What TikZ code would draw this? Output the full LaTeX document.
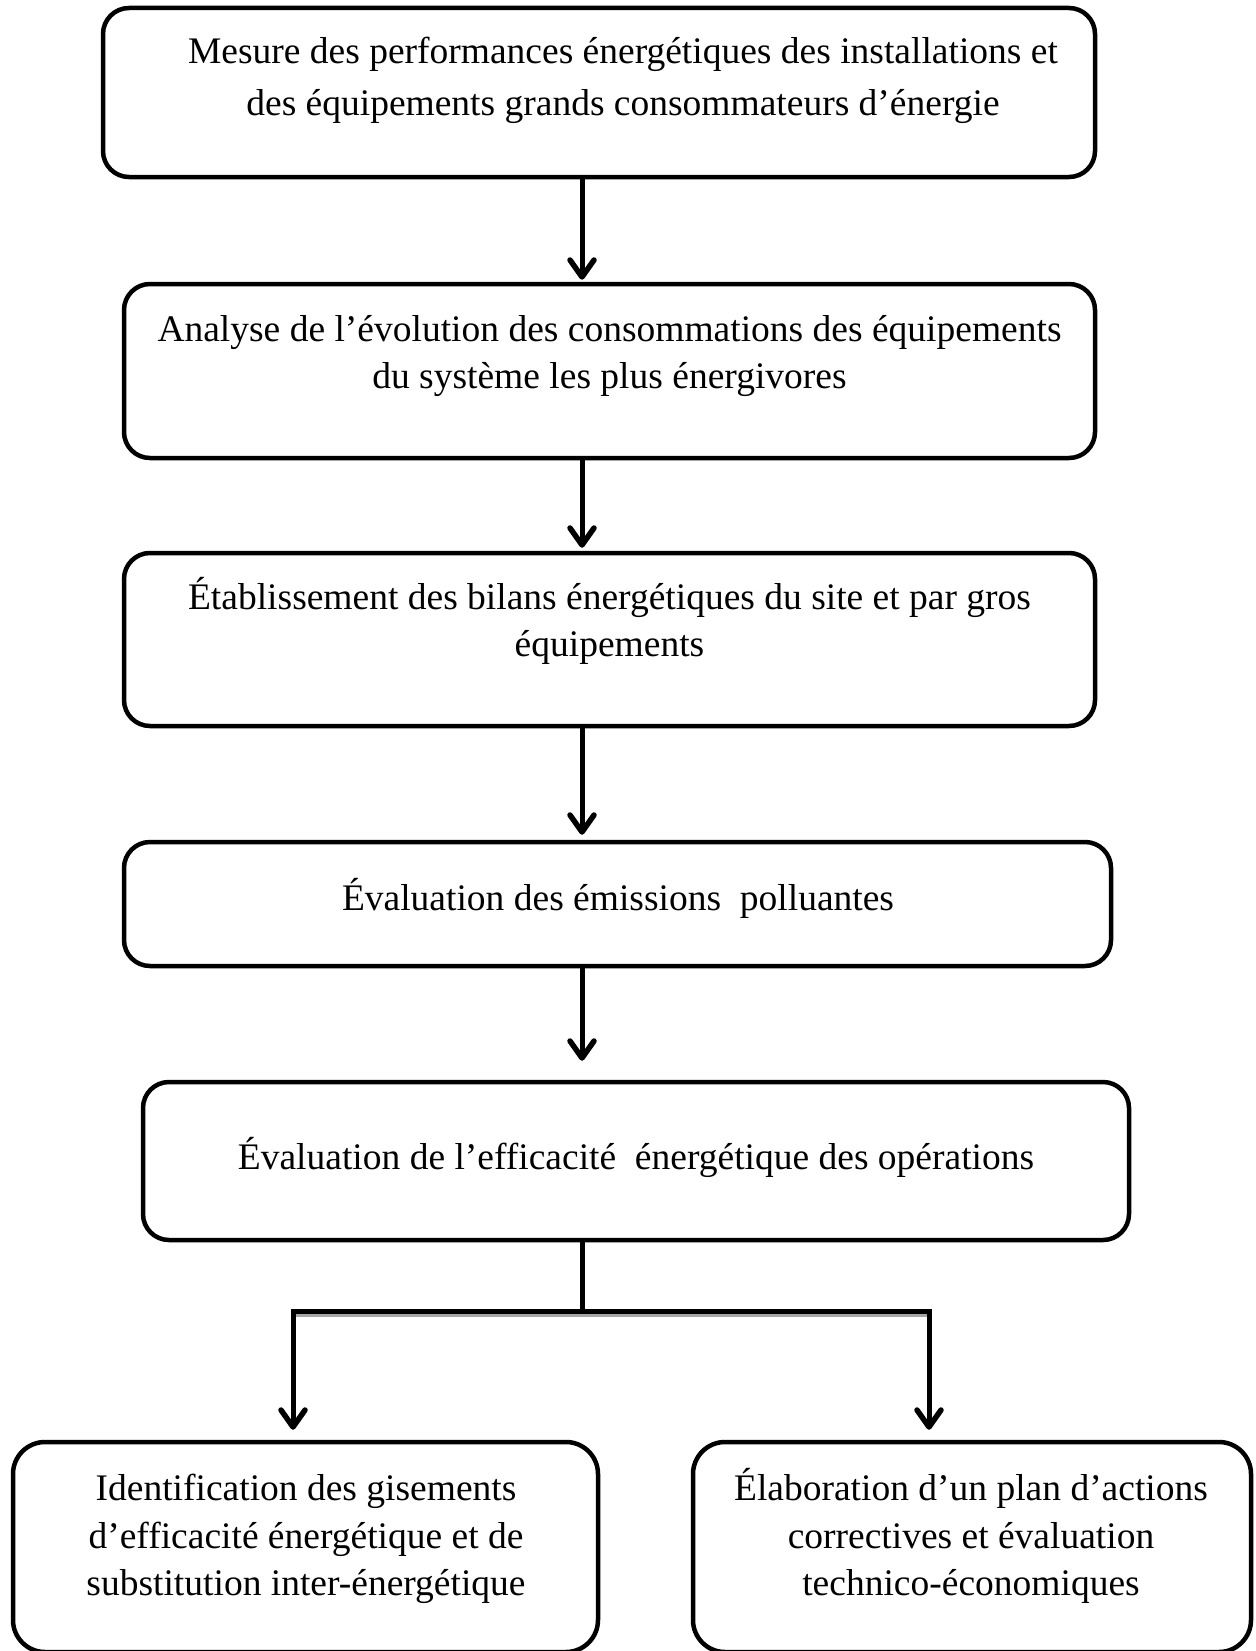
\documentclass[tikz,border=0pt]{standalone}
\usepackage{fontspec}
\setmainfont{Liberation Serif}
\usetikzlibrary{arrows.meta}
\begin{document}
\begin{tikzpicture}[x=1pt,y=-1pt,
  box/.style={draw, line width=4.5pt, rounded corners=26pt, inner sep=0pt},
  bigbox/.style={box, rounded corners=32pt},
  txt/.style={align=center, font=\fontsize{37.5}{47.5}\selectfont, inner sep=0pt},
  arr/.style={line width=5pt, -{Straight Barb[length=17pt,width=24pt,line width=5.5pt,round]}},
  ln/.style={line width=5pt}]
\useasboundingbox (0,0) rectangle (1255,1651);
% boxes
\node[box, minimum width=992pt, minimum height=169pt] (b1) at (599,92.5) {};
\node[box, minimum width=971pt, minimum height=174pt] (b2) at (609.5,371) {};
\node[box, minimum width=971pt, minimum height=173pt] (b3) at (609.5,639.5) {};
\node[box, minimum width=987pt, minimum height=124pt] (b4) at (617.5,904) {};
\node[box, minimum width=986pt, minimum height=158pt] (b5) at (636,1161) {};
\node[bigbox, minimum width=585pt, minimum height=210pt] (b6) at (305.5,1547) {};
\node[bigbox, minimum width=558pt, minimum height=210pt] (b7) at (972,1547) {};
% texts
\node[txt, font=\fontsize{37.5}{52}\selectfont] (t1) at (623,80) {Mesure des performances énergétiques des installations et\\des équipements grands consommateurs d’énergie};
\node[txt] (t2) at (609.5,356) {Analyse de l’évolution des consommations des équipements\\du système les plus énergivores};
\node[txt] (t3) at (609.5,621) {Établissement des bilans énergétiques du site et par gros\\équipements};
\node[txt] (t4) at (618,898) {Évaluation des émissions\ \ polluantes};
\node[txt] (t5) at (636,1157) {Évaluation de l’efficacité\ \ énergétique des opérations};
\node[txt] (t6) at (306,1539) {Identification des gisements\\d’efficacité énergétique et de\\substitution inter-énergétique};
\node[txt] (t7) at (971,1536) {Élaboration d’un plan d’actions\\correctives et évaluation\\technico-économiques};
% connectors
\coordinate (ax) at (582,0);
\coordinate (bar) at (0,1311);
\coordinate (jl) at (293,1311);
\coordinate (jr) at (929,1311);
\draw[arr, shorten >=2pt] (b1.south -| ax) -- (b2.north -| ax);
\draw[arr, shorten >=3pt] (b2.south -| ax) -- (b3.north -| ax);
\draw[arr, shorten >=5pt] (b3.south -| ax) -- (b4.north -| ax);
\draw[arr, shorten >=19pt] (b4.south -| ax) -- (b5.north -| ax);
\draw[ln] (b5.south -| ax) -- (ax |- bar);
\draw[line width=4pt, gray!70] ([xshift=-2pt,yshift=-4pt]jl) -- ([xshift=2pt,yshift=-4pt]jr);
\draw[ln, line cap=rect] (jl) -- (jr);
\draw[arr, shorten >=10pt] (jl) -- (b6.north -| jl);
\draw[arr, shorten >=10pt] (jr) -- (b7.north -| jr);
\end{tikzpicture}
\end{document}
